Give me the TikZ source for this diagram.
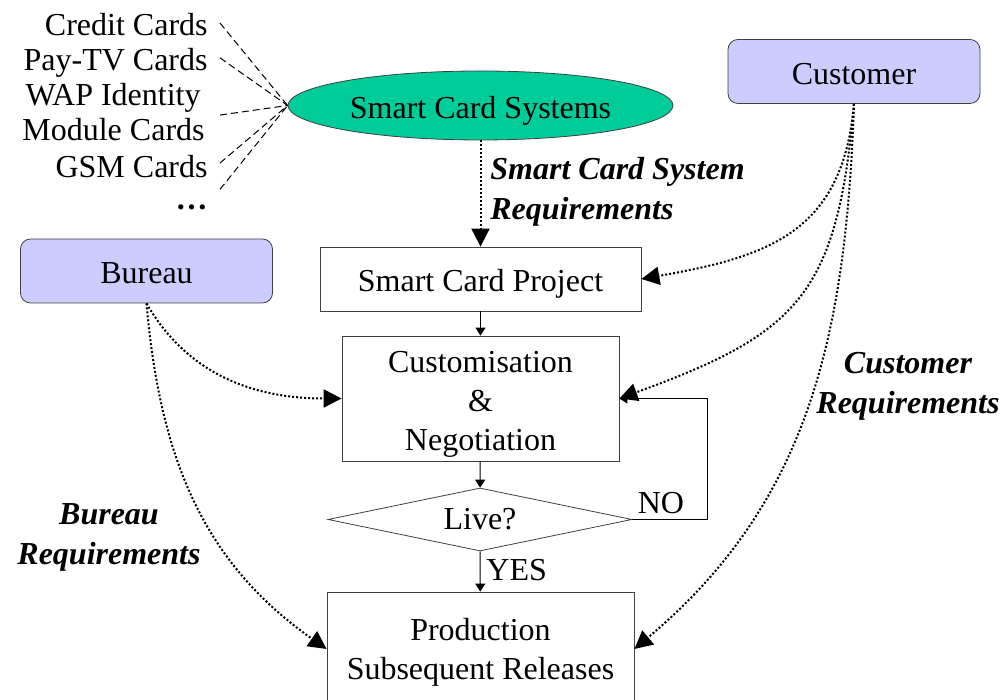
\documentclass[tikz,border=0pt]{standalone}
\usepackage{fontspec}
\setmainfont{Liberation Serif}
\usetikzlibrary{shapes.geometric,arrows.meta,calc}
\definecolor{cardgreen}{HTML}{00CC99}
\definecolor{partyblue}{HTML}{CCCCFF}
\newcommand{\topgap}[1]{\rule{0pt}{#1}}
\begin{document}
\begin{tikzpicture}[x=0.5pt, y=0.5pt,
        every node/.style={font=\fontsize{16}{19.5}\selectfont},
        lift/.style={execute at begin node={\topgap{#1}}},
        party/.style={draw=black!75, rounded corners=5pt, fill=partyblue, minimum width=126pt, minimum height=32pt, lift=13pt},
        stage/.style={draw=black!75, align=center, inner sep=0pt},
        req/.style={font=\fontsize{16}{20}\selectfont\bfseries\itshape, align=center, inner sep=0pt},
        kind/.style={anchor=base east, inner sep=0pt},
        flow/.style={-{Triangle[length=4pt,width=5pt]}, line width=0.5pt},
        need/.style={-{Triangle[length=9pt,width=9pt]}, line width=1pt, dash pattern=on 1pt off 1pt},
        link/.style={line width=0.5pt, dash pattern=on 3.5pt off 2pt}]
        \useasboundingbox (0,0) rectangle (1003,700);

        % Card types
        \node[kind] (credit) at (208,664) {Credit Cards};
        \node[kind] (paytv) at (208,629.5) {Pay-TV Cards};
        \node[kind] (wap) at (201,594) {WAP Identity};
        \node[kind] (module) at (205,559) {Module Cards};
        \node[kind] (gsm) at (208,522) {GSM Cards};
        \node[kind] (more) at (208,490) {\bfseries …};

        % Parties
        \node[party] (customer) at (854,628.5) {Customer};
        \node[party] (bureau) at (146.5,429) {Bureau};
        \node[ellipse, draw=black!75, fill=cardgreen, minimum width=192.5pt, minimum height=34.5pt, inner sep=0pt, lift=16pt] (systems) at (480.5,594.5) {Smart Card Systems};

        % Project flow
        \node[stage, minimum width=160.5pt, minimum height=32pt, lift=16pt] (project) at (480.5,421) {Smart Card Project};
        \node[stage, minimum width=138.5pt, minimum height=62.5pt] (custom) at (480.5,301.5) {\topgap{16.4pt}Customisation\\\&\\Negotiation};
        \node[diamond, draw=black!75, aspect=4.8, minimum width=152pt, minimum height=31.5pt, inner sep=0pt] (live) at (480,180.5) {Live?};
        \node[stage, minimum width=153.5pt, minimum height=57pt] (production) at (480.5,51) {\topgap{14pt}Production\\Subsequent Releases};

        \node (no) at (661,197) {NO};
        \node[anchor=west, inner sep=0pt] (yes) at (486,130) {YES};

        % Requirements
        \node[req, anchor=west, align=left] (sysreq) at (490,508) {Smart Card System\\Requirements};
        \node[req] (custreq) at (908,314) {Customer\\Requirements};
        \node[req] (burreq) at (109,162.5) {Bureau\\Requirements};

        \draw[link] ($(credit.east)+(12,2)$) -- (systems.west);
        \draw[link] ($(paytv.east)+(12,5)$) -- (systems.west);
        \draw[link] ($(module.east)+(15,15)$) -- (systems.west);
        \draw[link] ($(gsm.east)+(12,4)$) -- (systems.west);
        \draw[link] ($(more.east)+(12,18.5)$) -- (systems.west);

        \draw[need] (systems.south) -- (project.north);
        \draw[flow] (project) -- (custom);
        \draw[flow] (custom) -- (live);
        \draw[flow] (live) -- (production);
        \draw[flow] (live.east) -- ++(75,0) |- (custom.east);

        \draw[need] (customer.south) to[out=265, in=10, looseness=1.2] (project.east);
        \draw[need] (customer.south) to[out=265, in=20, looseness=1.3] (custom.east);
        \draw[need] (customer.south) to[out=268, in=40] (production.east);
        \draw[need] (bureau.south) to[out=300, in=180] (custom.west);
        \draw[need] (bureau.south) to[out=275, in=145] (production.west);
    \end{tikzpicture}
\end{document}
